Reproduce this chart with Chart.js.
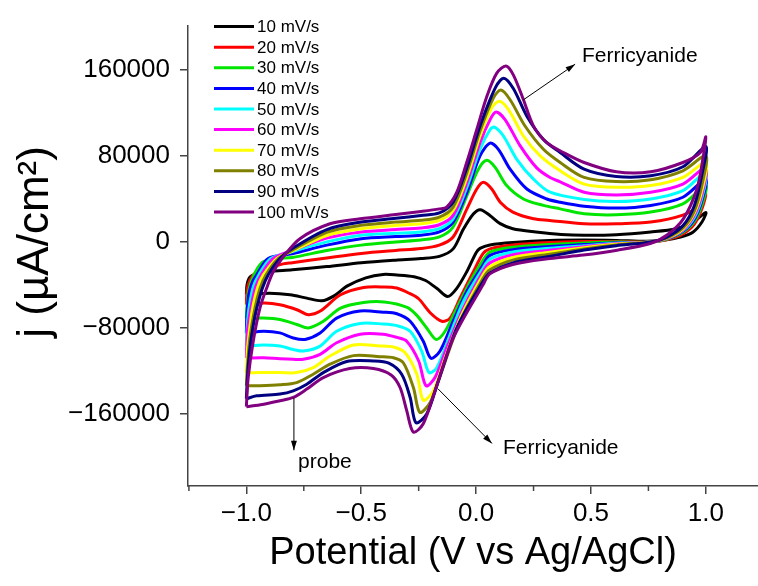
<!DOCTYPE html>
<html>
<head>
<meta charset="utf-8">
<script src="https://cdn.jsdelivr.net/npm/chart.js@4.4.0/dist/chart.umd.min.js"></script>
<style>
  html, body { margin: 0; padding: 0; background: #fff; overflow: hidden; }
  #wrap { width: 758px; height: 586px; }
</style>
</head>
<body>
<div id="wrap"><canvas id="cv" width="758" height="586"></canvas></div>
<script>
// Cyclic voltammograms at different scan rates, [potential V, j uA/cm2]
const scanRates = ['10 mV/s', '20 mV/s', '30 mV/s', '40 mV/s', '50 mV/s',
                   '60 mV/s', '70 mV/s', '80 mV/s', '90 mV/s', '100 mV/s'];
const lineColors = ['#000000', '#ff0000', '#00e600', '#0000ff', '#00ffff',
                    '#ff00ff', '#ffff00', '#808000', '#000080', '#800080'];

const cv10 = [[-1.0,-49000],[-0.997,-40000],[-0.985,-33000],[-0.95,-29500],[-0.9,-27500],[-0.8,-26000],[-0.65,-23000],[-0.5,-19500],[-0.35,-17000],[-0.24,-15500],[-0.16,-13500],[-0.1,-6500],[-0.055,12000],[-0.012,26000],[0.018,30000],[0.06,24700],[0.105,17000],[0.16,12300],[0.26,9300],[0.37,7000],[0.47,6200],[0.61,6700],[0.76,9300],[0.87,12300],[0.945,18500],[1.0,27500],
  [0.983,18500],[0.945,9300],[0.89,4600],[0.81,1600],[0.74,500],[0.61,1400],[0.47,1800],[0.32,1400],[0.16,-500],[0.06,-2800],[0.017,-6000],[0.0,-10000],[-0.04,-27500],[-0.085,-43500],[-0.124,-50900],[-0.17,-43500],[-0.22,-36000],[-0.27,-32400],[-0.345,-30800],[-0.405,-30300],[-0.48,-33500],[-0.56,-41000],[-0.62,-50500],[-0.672,-54900],[-0.737,-52400],[-0.81,-49300],[-0.9,-47800],[-0.965,-48600],[-1.0,-49000]];

const cv20 = [[-1.0,-58500],[-0.997,-45000],[-0.985,-36000],[-0.96,-29000],[-0.9,-24500],[-0.84,-20500],[-0.8,-19400],[-0.65,-15000],[-0.5,-10800],[-0.35,-8000],[-0.24,-6200],[-0.16,-3000],[-0.1,4600],[-0.04,30800],[0.003,49300],[0.032,55500],[0.068,49300],[0.105,37000],[0.16,27800],[0.25,21500],[0.32,20000],[0.47,16900],[0.61,16900],[0.76,18500],[0.9,25000],[0.975,34200],[1.0,44700],
  [0.985,32000],[0.95,16500],[0.9,7400],[0.83,2000],[0.76,0],[0.61,400],[0.47,300],[0.32,-500],[0.16,-2800],[0.06,-6500],[0.03,-11000],[-0.012,-27800],[-0.07,-52500],[-0.113,-71000],[-0.149,-74000],[-0.2,-66000],[-0.25,-53000],[-0.29,-48000],[-0.345,-43000],[-0.4,-42000],[-0.49,-42500],[-0.59,-49300],[-0.68,-64700],[-0.73,-67800],[-0.78,-63200],[-0.854,-58600],[-0.92,-57000],[-1.0,-58500]];

const cv30 = [[-1.0,-71200],[-0.998,-62000],[-0.99,-45000],[-0.967,-30800],[-0.93,-19000],[-0.87,-15500],[-0.8,-14500],[-0.65,-8000],[-0.5,-3000],[-0.35,0],[-0.24,1800],[-0.16,4600],[-0.1,13900],[-0.04,43200],[0.01,67800],[0.047,76000],[0.083,69400],[0.133,52500],[0.206,40000],[0.293,34000],[0.366,30800],[0.47,26200],[0.61,25300],[0.76,27800],[0.9,35400],[1.0,52500],
  [0.985,36000],[0.95,19000],[0.9,9000],[0.83,2500],[0.76,0],[0.61,-200],[0.47,-1000],[0.32,-2400],[0.16,-5000],[0.06,-9500],[0.03,-17000],[-0.026,-37000],[-0.084,-61700],[-0.135,-83300],[-0.174,-90900],[-0.215,-80200],[-0.26,-68000],[-0.3,-61000],[-0.4,-56000],[-0.49,-56500],[-0.59,-61700],[-0.665,-74000],[-0.73,-80200],[-0.78,-77000],[-0.854,-72400],[-0.926,-71000],[-1.0,-71200]];

const cv40 = [[-1.0,-85100],[-0.998,-70000],[-0.99,-50000],[-0.975,-38000],[-0.955,-30800],[-0.905,-15500],[-0.8,-11000],[-0.65,-3000],[-0.5,3000],[-0.35,5000],[-0.24,6200],[-0.16,9300],[-0.1,18500],[-0.04,46300],[0.017,80200],[0.061,92000],[0.097,86300],[0.148,67800],[0.221,49300],[0.308,40000],[0.366,37000],[0.47,33300],[0.61,31500],[0.76,34000],[0.9,41600],[1.0,58500],
  [0.985,40000],[0.95,21000],[0.9,10000],[0.83,3000],[0.76,0],[0.61,-700],[0.47,-2500],[0.32,-4300],[0.16,-7200],[0.06,-12500],[0.03,-21500],[-0.041,-46300],[-0.1,-74000],[-0.157,-101700],[-0.197,-108500],[-0.23,-92500],[-0.287,-74000],[-0.345,-67000],[-0.405,-65500],[-0.505,-64400],[-0.607,-71000],[-0.679,-84800],[-0.745,-90900],[-0.796,-89500],[-0.854,-84800],[-0.926,-83300],[-1.0,-85100]];

const cv50 = [[-1.0,-97100],[-0.998,-85000],[-0.995,-75000],[-0.989,-62000],[-0.97,-42000],[-0.946,-30800],[-0.894,-15500],[-0.8,-9000],[-0.65,0],[-0.5,6200],[-0.35,8000],[-0.24,9300],[-0.16,12300],[-0.1,21500],[-0.04,50900],[0.017,86300],[0.061,104800],[0.08,107000],[0.119,98700],[0.177,77000],[0.25,58500],[0.322,46300],[0.47,39500],[0.61,37600],[0.76,40000],[0.9,47800],[1.0,64700],
  [0.985,43000],[0.95,23000],[0.9,10500],[0.83,3200],[0.76,0],[0.61,-1200],[0.47,-3500],[0.32,-6000],[0.16,-9500],[0.06,-16000],[0.03,-24500],[-0.055,-55500],[-0.113,-86300],[-0.171,-117200],[-0.205,-121800],[-0.237,-101700],[-0.287,-83300],[-0.345,-78000],[-0.405,-76500],[-0.505,-76000],[-0.607,-83300],[-0.679,-97100],[-0.752,-101700],[-0.796,-100200],[-0.854,-97100],[-0.926,-96200],[-1.0,-97100]];

const cv60 = [[-1.0,-108200],[-0.998,-95000],[-0.995,-82000],[-0.981,-62000],[-0.96,-42000],[-0.936,-30800],[-0.883,-15500],[-0.8,-8000],[-0.65,3500],[-0.5,9300],[-0.35,11500],[-0.24,13000],[-0.16,16000],[-0.1,24700],[-0.04,55500],[0.017,92500],[0.061,114000],[0.087,121000],[0.126,114000],[0.192,89500],[0.264,69000],[0.322,60000],[0.366,56000],[0.47,46300],[0.61,43800],[0.76,46300],[0.9,53900],[1.0,69400],
  [0.985,46000],[0.95,25000],[0.9,11000],[0.83,3200],[0.76,0],[0.61,-1700],[0.47,-4500],[0.32,-7800],[0.16,-12000],[0.06,-19500],[0.03,-27800],[-0.055,-61700],[-0.128,-98700],[-0.179,-126400],[-0.218,-134100],[-0.25,-111000],[-0.302,-92500],[-0.345,-89000],[-0.405,-86000],[-0.505,-86000],[-0.607,-94000],[-0.679,-104800],[-0.752,-109400],[-0.796,-109400],[-0.854,-108900],[-0.926,-108000],[-1.0,-108200]];

const cv70 = [[-1.0,-122100],[-0.995,-100000],[-0.985,-80000],[-0.973,-62000],[-0.95,-42000],[-0.926,-30800],[-0.868,-15500],[-0.8,-8600],[-0.65,6000],[-0.5,12300],[-0.35,15300],[-0.24,16900],[-0.16,20000],[-0.1,29300],[-0.04,60100],[0.017,98700],[0.068,124900],[0.101,131100],[0.141,123300],[0.206,98700],[0.279,80200],[0.366,66300],[0.47,53900],[0.61,50900],[0.76,52500],[0.9,60100],[1.0,74000],
  [0.985,50000],[0.95,27000],[0.9,12000],[0.83,3500],[0.76,0],[0.61,-2200],[0.47,-5500],[0.32,-9700],[0.16,-14500],[0.06,-23000],[0.03,-30800],[-0.062,-67800],[-0.135,-108000],[-0.186,-138800],[-0.23,-147500],[-0.258,-123300],[-0.309,-103300],[-0.36,-98000],[-0.418,-97000],[-0.534,-96000],[-0.636,-106400],[-0.709,-117200],[-0.781,-121800],[-0.854,-121800],[-0.941,-121800],[-1.0,-122100]];

const cv80 = [[-1.0,-134100],[-0.995,-115000],[-0.985,-90000],[-0.963,-62000],[-0.94,-43000],[-0.915,-30800],[-0.861,-15500],[-0.8,-7700],[-0.65,9000],[-0.5,15500],[-0.35,18500],[-0.24,20100],[-0.16,23100],[-0.1,32400],[-0.04,64700],[0.017,103300],[0.075,134100],[0.108,141500],[0.148,132500],[0.213,108000],[0.293,86300],[0.366,74000],[0.47,60100],[0.61,56200],[0.76,58000],[0.9,66300],[1.0,80200],
  [0.985,55000],[0.95,29000],[0.9,13000],[0.83,3800],[0.76,0],[0.61,-2800],[0.47,-6500],[0.32,-11500],[0.16,-17000],[0.06,-26000],[0.03,-34000],[-0.07,-74000],[-0.149,-120300],[-0.2,-149600],[-0.245,-158800],[-0.273,-135700],[-0.317,-112600],[-0.36,-108000],[-0.418,-107000],[-0.534,-106000],[-0.636,-114000],[-0.709,-123300],[-0.781,-131100],[-0.854,-133200],[-0.941,-134100],[-1.0,-134100]];

const cv90 = [[-1.0,-146200],[-0.995,-125000],[-0.985,-100000],[-0.97,-78000],[-0.955,-62000],[-0.93,-43000],[-0.905,-30800],[-0.854,-15500],[-0.8,-6200],[-0.65,11500],[-0.5,18500],[-0.35,22000],[-0.24,24700],[-0.16,27000],[-0.1,37000],[-0.04,69400],[0.017,108000],[0.083,143400],[0.12,152600],[0.162,143000],[0.221,117200],[0.293,95500],[0.366,83300],[0.47,67800],[0.61,61000],[0.76,61700],[0.9,70000],[1.0,89000],
  [0.985,65000],[0.95,34000],[0.9,15000],[0.83,4500],[0.76,0],[0.61,-3500],[0.47,-7500],[0.32,-13500],[0.16,-19500],[0.06,-29000],[0.03,-37000],[-0.084,-80200],[-0.164,-129500],[-0.215,-160300],[-0.262,-168500],[-0.287,-145000],[-0.324,-123300],[-0.38,-113000],[-0.447,-111000],[-0.563,-111500],[-0.665,-121800],[-0.737,-132600],[-0.796,-138800],[-0.854,-141800],[-0.955,-143400],[-1.0,-146200]];

const cv100 = [[-1.0,-153600],[-0.992,-126400],[-0.97,-92500],[-0.941,-61700],[-0.912,-43200],[-0.883,-27800],[-0.839,-13900],[-0.767,3000],[-0.636,16900],[-0.505,21500],[-0.35,25500],[-0.24,28400],[-0.16,30800],[-0.128,32400],[-0.084,46300],[-0.041,74000],[0.003,104800],[0.047,135700],[0.09,157300],[0.13,164000],[0.162,155700],[0.206,132500],[0.25,107900],[0.308,92500],[0.38,83300],[0.47,74000],[0.61,65400],[0.76,65400],[0.9,74000],[0.976,83300],[1.0,98000],
  [0.989,80000],[0.961,49300],[0.902,21500],[0.831,6500],[0.758,-1500],[0.614,-7700],[0.466,-12300],[0.322,-15500],[0.16,-21000],[0.06,-29800],[0.03,-40000],[-0.099,-89500],[-0.179,-138800],[-0.23,-169500],[-0.273,-177300],[-0.302,-157300],[-0.331,-135700],[-0.37,-124000],[-0.447,-118000],[-0.55,-118000],[-0.665,-126400],[-0.737,-137200],[-0.796,-145000],[-0.854,-148000],[-0.93,-151500],[-1.0,-153600]];

const curves = [cv10, cv20, cv30, cv40, cv50, cv60, cv70, cv80, cv90, cv100];

// axis ticks
const xTicks = [-1.0, -0.5, 0.0, 0.5, 1.0];
const xMinorTicks = [-1.25, -0.75, -0.25, 0.25, 0.75];
const yTicks = [-160000, -80000, 0, 80000, 160000];

// annotations: label, arrow tail, arrow head, label anchor (data units)
const noteText = ['Ferricyanide', 'Ferricyanide', 'probe'];
const noteFrom = [[0.205, 132300], [-0.166, -136900], [-0.793, -145200]];
const noteTo = [[0.431, 165600], [0.069, -187800], [-0.793, -194200]];
const noteAt = [[0.461, 173000], [0.117, -192400], [-0.775, -205300]];

const yTitle = 'j (\u00b5A/cm\u00b2)';
const FONT = 'Arial, "Liberation Sans", sans-serif';

function minusFmt(s) {
  return String(s).replace('-', '\u2212');
}

const datasets = curves.map((pts, i) => ({
  label: scanRates[i],
  data: pts.map(p => ({ x: p[0], y: p[1] })),
  borderColor: lineColors[i],
  backgroundColor: lineColors[i],
  borderWidth: 3,
  pointRadius: 0,
  showLine: true,
  tension: 0.3,
  order: curves.length - i
}));

// legend drawn inside the plot, top-left column
const legendPlugin = {
  id: 'cvLegend',
  afterDraw(chart) {
    const ctx = chart.ctx;
    const area = chart.chartArea;
    ctx.save();
    ctx.font = '17px ' + FONT;
    ctx.textBaseline = 'middle';
    ctx.fillStyle = '#000';
    scanRates.forEach((lab, i) => {
      const y = area.top + 1 + i * 20.6;
      ctx.strokeStyle = lineColors[i];
      ctx.lineWidth = 3;
      ctx.beginPath();
      ctx.moveTo(area.left + 26, y);
      ctx.lineTo(area.left + 66, y);
      ctx.stroke();
      ctx.fillText(lab, area.left + 69, y + 1);
    });
    ctx.restore();
  }
};

function arrow(ctx, x1, y1, x2, y2) {
  const a = Math.atan2(y2 - y1, x2 - x1);
  ctx.beginPath();
  ctx.moveTo(x1, y1);
  ctx.lineTo(x2, y2);
  ctx.stroke();
  ctx.beginPath();
  ctx.moveTo(x2, y2);
  ctx.lineTo(x2 - 10 * Math.cos(a - 0.3), y2 - 10 * Math.sin(a - 0.3));
  ctx.lineTo(x2 - 10 * Math.cos(a + 0.3), y2 - 10 * Math.sin(a + 0.3));
  ctx.closePath();
  ctx.fill();
}

const notesPlugin = {
  id: 'cvNotes',
  afterDraw(chart) {
    const ctx = chart.ctx;
    const sx = chart.scales.x, sy = chart.scales.y;
    ctx.save();
    ctx.strokeStyle = '#000';
    ctx.fillStyle = '#000';
    ctx.lineWidth = 1;
    noteText.forEach((t, i) => {
      arrow(ctx, sx.getPixelForValue(noteFrom[i][0]), sy.getPixelForValue(noteFrom[i][1]),
                 sx.getPixelForValue(noteTo[i][0]), sy.getPixelForValue(noteTo[i][1]));
      ctx.font = '21px ' + FONT;
      ctx.textBaseline = 'middle';
      ctx.fillText(t, sx.getPixelForValue(noteAt[i][0]), sy.getPixelForValue(noteAt[i][1]));
    });
    // minor ticks on the potential axis
    ctx.strokeStyle = '#444';
    ctx.lineWidth = 1.5;
    xMinorTicks.forEach(v => {
      const px = sx.getPixelForValue(v);
      ctx.beginPath();
      ctx.moveTo(px, sx.top);
      ctx.lineTo(px, sx.top + 5);
      ctx.stroke();
    });
    // y axis title, centred on the zero line like the original
    ctx.translate(36, sy.getPixelForValue(0));
    ctx.rotate(-Math.PI / 2);
    ctx.font = '44px ' + FONT;
    ctx.textAlign = 'center';
    ctx.textBaseline = 'middle';
    ctx.fillText(yTitle, 0, 0);
    ctx.restore();
  }
};

new Chart(document.getElementById('cv').getContext('2d'), {
  type: 'scatter',
  data: { datasets: datasets },
  options: {
    responsive: false,
    animation: false,
    devicePixelRatio: 1,
    layout: { padding: { top: 22, right: 0, left: 0, bottom: 0 } },
    plugins: { legend: { display: false }, tooltip: { enabled: false } },
    scales: {
      x: {
        type: 'linear',
        min: -1.254,
        max: 1.227,
        afterFit: (s) => { s.height = 100; },
        afterBuildTicks: (s) => { s.ticks = xTicks.map(v => ({ value: v })); },
        border: { display: true, color: '#444', width: 1.5 },
        grid: { drawOnChartArea: false, drawTicks: true, tickLength: 8, color: '#444', lineWidth: 1.5 },
        ticks: {
          autoSkip: false,
          maxRotation: 0,
          padding: 4,
          color: '#000',
          font: { size: 26, family: FONT },
          callback: (v) => minusFmt(Number(v).toFixed(1))
        },
        title: {
          display: true,
          text: 'Potential (V vs Ag/AgCl)',
          color: '#000',
          font: { size: 38, family: FONT },
          padding: { top: 0, bottom: 10 }
        }
      },
      y: {
        type: 'linear',
        min: -227500,
        max: 201600,
        afterFit: (s) => { s.width = 188; },
        afterBuildTicks: (s) => { s.ticks = yTicks.map(v => ({ value: v })); },
        border: { display: true, color: '#444', width: 1.5 },
        grid: { drawOnChartArea: false, drawTicks: true, tickLength: 8, color: '#444', lineWidth: 1.5 },
        ticks: {
          autoSkip: false,
          padding: 10,
          color: '#000',
          font: { size: 26, family: FONT },
          callback: (v) => minusFmt(v)
        },
        title: { display: false }
      }
    }
  },
  plugins: [legendPlugin, notesPlugin]
});
</script>
</body>
</html>
